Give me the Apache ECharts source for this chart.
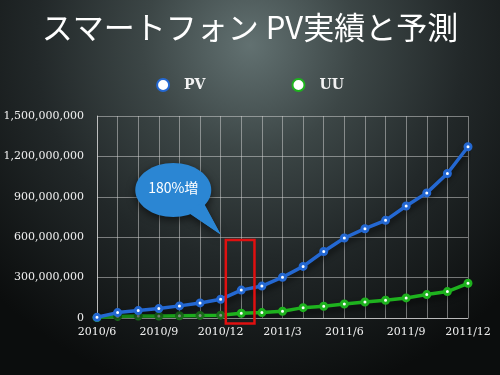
<!DOCTYPE html>
<html><head><meta charset="utf-8">
<script src="https://cdn.jsdelivr.net/npm/echarts@6/dist/echarts.min.js"></script>
<style>html,body{margin:0;padding:0;background:#111;}#c{width:500px;height:375px;}</style>
</head><body><div id="c"></div>
<script>
const categories = ['2010/6','2010/7','2010/8','2010/9','2010/10','2010/11','2010/12','2011/1','2011/2','2011/3','2011/4','2011/5','2011/6','2011/7','2011/8','2011/9','2011/10','2011/11','2011/12'];
const pvValues = [5e6,40e6,55e6,70e6,90e6,112e6,139e6,207e6,237e6,303e6,383e6,494e6,594e6,663e6,725e6,832e6,929e6,1073e6,1272e6];
const uuValues = [3e6,12e6,14e6,15e6,17e6,19e6,21e6,35e6,40e6,50e6,77e6,87e6,104e6,119e6,132e6,149e6,174e6,196e6,258e6];
const yTicks = [0,300e6,600e6,900e6,1200e6,1500e6];
const calloutText = '180%増';
const titleText = 'スマートフォン PV実績と予測';

const chart = echarts.init(document.getElementById('c'), null, {renderer:'canvas'});
const labelFont = 'DejaVu Serif';
const blue = '#2468d2', green = '#1eb21e';
const uuData = uuValues.map((v,i)=> (i>=1 && i<=6) ? {value:v, itemStyle:{color:'#8a8f8a', borderColor:'#1b6e1b'}} : v);

chart.setOption({
  backgroundColor: {type:'radial', x:0.5, y:0.12, r:0.95, colorStops:[
    {offset:0,color:'#627171'},{offset:0.3,color:'#3c4646'},{offset:0.6,color:'#222829'},{offset:1,color:'#0b0d0d'}]},
  title: {text:titleText, left:'center', top:7,
    textStyle:{color:'#ffffff', fontSize:31, fontWeight:'normal', fontFamily:'Noto Sans CJK JP'}},
  legend: {top:73, left:'center', itemGap:86, itemWidth:12, itemHeight:12, icon:'circle',
    textStyle:{color:'#f2f2f2', fontSize:14, fontFamily:labelFont, fontWeight:'bold', padding:[0,0,0,10]},
    data:['PV','UU']},
  grid: {left:97, right:32, top:116, bottom:57, containLabel:false, outerBoundsMode:'none'},
  xAxis: {type:'category', data:categories, boundaryGap:false,
    axisLine:{lineStyle:{color:'rgba(215,215,215,0.7)'}},
    axisTick:{show:false},
    axisLabel:{interval:2, color:'#f0f0f0', fontSize:11, fontFamily:labelFont, margin:9},
    splitLine:{show:true, interval:0, lineStyle:{color:'rgba(215,215,215,0.5)', width:1}}},
  yAxis: {type:'value', min:yTicks[0], max:yTicks[yTicks.length-1], interval:yTicks[1]-yTicks[0],
    axisLine:{show:true, lineStyle:{color:'rgba(215,215,215,0.7)'}},
    axisTick:{show:false},
    axisLabel:{color:'#f0f0f0', fontSize:11, fontFamily:labelFont, margin:13,
      formatter:v=>v.toLocaleString('en-US')},
    splitLine:{lineStyle:{color:'rgba(215,215,215,0.5)', width:1}}},
  series: [
    {name:'UU', type:'line', data:uuData, symbol:'circle', symbolSize:6, z:2,
      lineStyle:{color:green, width:3.5, shadowColor:'rgba(0,0,0,0.7)', shadowBlur:6, shadowOffsetY:4},
      itemStyle:{color:'#ffffff', borderColor:green, borderWidth:3}},
    {name:'PV', type:'line', data:pvValues, symbol:'circle', symbolSize:6, z:3,
      lineStyle:{color:blue, width:3.5, shadowColor:'rgba(0,0,0,0.7)', shadowBlur:6, shadowOffsetY:4},
      itemStyle:{color:'#ffffff', borderColor:blue, borderWidth:3}}
  ]
});

// annotation positioned via chart coordinates
function px(idx, val){
  const i0 = Math.floor(idx), f = idx - i0;
  const a = chart.convertToPixel({gridIndex:0}, [i0, val]);
  const b = chart.convertToPixel({gridIndex:0}, [i0+1, val]);
  return [a[0] + (b[0]-a[0])*f, a[1]];
}
const boxTL = px(6.25, 580e6), boxBR = px(7.64, 0);
const bc = px(3.7, 950e6);
const tip = px(6.0, 620e6);
const rx = 38, ry = 27;
chart.setOption({
  graphic: [
    {type:'rect', shape:{x:boxTL[0], y:boxTL[1], width:boxBR[0]-boxTL[0], height:boxBR[1]-boxTL[1]+5.5},
      style:{fill:null, stroke:'#e01010', lineWidth:2.5}, z:10},
    {type:'group', z:10, children:[
      {type:'polygon', shape:{points:[[bc[0]+16, bc[1]+ry-4],[bc[0]+30, bc[1]+ry-14],[tip[0], tip[1]]]},
        style:{fill:'#2b86d3', shadowColor:'rgba(0,0,0,0.6)', shadowBlur:8, shadowOffsetY:3}},
      {type:'ellipse', shape:{cx:bc[0], cy:bc[1], rx:rx, ry:ry},
        style:{fill:'#2b86d3', shadowColor:'rgba(0,0,0,0.6)', shadowBlur:8, shadowOffsetY:3}},
      {type:'polygon', shape:{points:[[bc[0]+14, bc[1]+ry-5],[bc[0]+30, bc[1]+ry-15],[tip[0], tip[1]]]},
        style:{fill:'#2b86d3'}},
      {type:'text', x:bc[0], y:bc[1]-2, style:{text:calloutText, fill:'#ffffff', fontSize:14,
        fontFamily:'Noto Sans CJK JP', align:'center', verticalAlign:'middle'}}
    ]}
  ]
});
</script></body></html>
